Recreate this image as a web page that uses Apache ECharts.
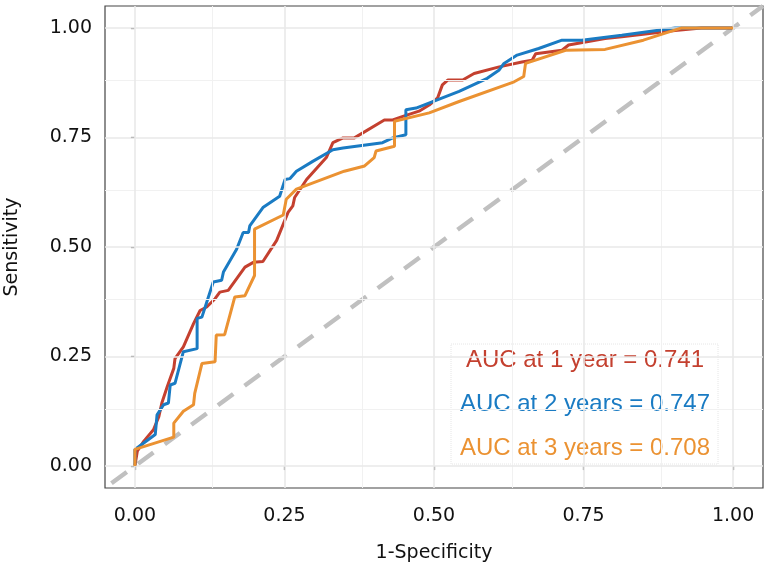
<!DOCTYPE html>
<html>
<head>
<meta charset="utf-8">
<script src="https://cdn.jsdelivr.net/npm/echarts@6/dist/echarts.min.js"></script>
<style>
  html, body { margin: 0; padding: 0; background: #fff; }
  #chart { width: 772px; height: 573px; }
</style>
</head>
<body>
<div id="chart"></div>
<script>
// ROC curves (1-specificity, sensitivity)
const fpr1 = [0, 0.004, 0.015, 0.031, 0.04, 0.045, 0.054, 0.065, 0.067, 0.081, 0.098, 0.109, 0.12, 0.134, 0.142, 0.156, 0.184, 0.198, 0.214, 0.237, 0.256, 0.264, 0.267, 0.287, 0.32, 0.331, 0.348, 0.367, 0.417, 0.431, 0.448, 0.475, 0.492, 0.506, 0.514, 0.523, 0.548, 0.567, 0.609, 0.647, 0.664, 0.67, 0.714, 0.725, 0.786, 0.814, 0.903, 0.947, 1];
const tpr1 = [0, 0.034, 0.057, 0.083, 0.113, 0.144, 0.181, 0.223, 0.245, 0.272, 0.325, 0.355, 0.363, 0.382, 0.397, 0.401, 0.454, 0.465, 0.467, 0.515, 0.579, 0.594, 0.613, 0.654, 0.704, 0.738, 0.749, 0.749, 0.79, 0.79, 0.798, 0.81, 0.824, 0.84, 0.87, 0.881, 0.881, 0.896, 0.911, 0.922, 0.926, 0.941, 0.949, 0.961, 0.976, 0.98, 0.994, 1, 1];

const fpr2 = [0, 0, 0.034, 0.037, 0.048, 0.056, 0.059, 0.067, 0.081, 0.104, 0.104, 0.112, 0.131, 0.145, 0.148, 0.17, 0.181, 0.19, 0.192, 0.214, 0.242, 0.251, 0.259, 0.27, 0.298, 0.331, 0.348, 0.414, 0.431, 0.453, 0.453, 0.47, 0.542, 0.589, 0.609, 0.617, 0.639, 0.675, 0.714, 0.747, 0.814, 0.903, 1];
const tpr2 = [0, 0.038, 0.072, 0.117, 0.14, 0.144, 0.185, 0.189, 0.261, 0.268, 0.337, 0.34, 0.42, 0.424, 0.443, 0.495, 0.533, 0.533, 0.548, 0.59, 0.616, 0.654, 0.656, 0.673, 0.696, 0.722, 0.726, 0.738, 0.749, 0.756, 0.813, 0.817, 0.855, 0.885, 0.904, 0.919, 0.938, 0.953, 0.972, 0.972, 0.983, 1, 1];

const fpr3 = [0, 0, 0.065, 0.065, 0.081, 0.098, 0.1, 0.112, 0.134, 0.136, 0.15, 0.167, 0.184, 0.2, 0.2, 0.248, 0.253, 0.27, 0.35, 0.384, 0.4, 0.403, 0.434, 0.434, 0.492, 0.542, 0.634, 0.65, 0.653, 0.72, 0.786, 0.85, 0.914, 1];
const tpr3 = [0, 0.038, 0.066, 0.098, 0.125, 0.14, 0.166, 0.234, 0.238, 0.299, 0.3, 0.386, 0.389, 0.435, 0.541, 0.573, 0.609, 0.632, 0.673, 0.685, 0.704, 0.719, 0.73, 0.787, 0.806, 0.832, 0.877, 0.889, 0.919, 0.949, 0.951, 0.972, 1, 1];

const aucNames = ["AUC at 1 year = 0.741", "AUC at 2 years = 0.747", "AUC at 3 years = 0.708"];
const aucColors = ["#c4402f", "#1a7bc3", "#eb9232"];

const tickValues = [0, 0.25, 0.5, 0.75, 1];
const minorValues = [0.125, 0.375, 0.625, 0.875];
const diagonal = [[-0.05, -0.05], [1.05, 1.05]];

const zip = (xs, ys) => xs.map((x, i) => [x, ys[i]]);
const curves = [zip(fpr1, tpr1), zip(fpr2, tpr2), zip(fpr3, tpr3)];

const chart = echarts.init(document.getElementById("chart"));

function makeAxis(margin) {
  return {
    type: "value",
    min: -0.05,
    max: 1.05,
    axisLine: { show: false },
    axisTick: {
      show: true,
      customValues: tickValues,
      length: 4,
      lineStyle: { color: "#333", width: 1.2 }
    },
    axisLabel: {
      customValues: tickValues,
      formatter: v => v.toFixed(2),
      color: "#111",
      fontFamily: "DejaVu Sans",
      fontSize: 19,
      margin: margin
    },
    splitLine: { show: false },
    nameLocation: "middle",
    nameTextStyle: { color: "#111", fontFamily: "DejaVu Sans", fontSize: 19 }
  };
}

// background grid lines (major + minor), drawn in data coordinates
const gridLines = [];
minorValues.forEach(v => {
  gridLines.push({ xAxis: v, lineStyle: { color: "#f1f1f1", width: 1 } });
  gridLines.push({ yAxis: v, lineStyle: { color: "#f1f1f1", width: 1 } });
});
tickValues.forEach(v => {
  gridLines.push({ xAxis: v, lineStyle: { color: "#e9e9e9", width: 1.6 } });
  gridLines.push({ yAxis: v, lineStyle: { color: "#e9e9e9", width: 1.6 } });
});

const series = [
  {
    name: "grid",
    type: "line",
    data: [],
    silent: true,
    z: 0,
    markLine: {
      silent: true,
      symbol: "none",
      label: { show: false },
      animation: false,
      lineStyle: { type: "solid" },
      data: gridLines
    }
  },
  {
    name: "diagonal",
    type: "line",
    data: diagonal,
    symbol: "none",
    silent: true,
    z: 1,
    lineStyle: { color: "#c0c0c0", width: 4.5, type: [19, 14], dashOffset: -8, cap: "butt" }
  }
];
curves.forEach((d, i) => {
  series.push({
    name: aucNames[i],
    type: "line",
    data: d,
    symbol: "none",
    z: 3 + i,
    color: aucColors[i],
    lineStyle: { color: aucColors[i], width: 3 }
  });
});

chart.setOption({
  animation: false,
  backgroundColor: "#fff",
  grid: {
    left: 105,
    right: 9,
    top: 6,
    bottom: 85,
    outerBoundsMode: "none",
    show: true,
    borderColor: "#444",
    borderWidth: 1.2,
    backgroundColor: "#fff"
  },
  xAxis: Object.assign(makeAxis(19), {
    name: "1-Specificity",
    nameGap: 56
  }),
  yAxis: Object.assign(makeAxis(13), {
    name: "Sensitivity",
    nameGap: 83,
    nameRotate: 90
  }),
  legend: {
    orient: "vertical",
    left: 451,
    top: 344,
    icon: "none",
    itemWidth: 0,
    itemHeight: 10,
    itemGap: 14,
    padding: [1, 5, 1, 1],
    backgroundColor: "rgba(255,255,255,0.75)",
    borderColor: "#e6e6e6",
    borderWidth: 1,
    borderType: "dotted",
    data: aucNames.map((n, i) => ({ name: n, textStyle: { color: aucColors[i] } })),
    formatter: n => "{c|" + n + "}",
    textStyle: {
      fontFamily: "Liberation Sans",
      fontSize: 24,
      lineHeight: 30,
      rich: {
        c: { width: 256, align: "center", fontFamily: "Liberation Sans", fontSize: 24, lineHeight: 30 }
      }
    }
  },
  series
});
</script>
</body>
</html>
